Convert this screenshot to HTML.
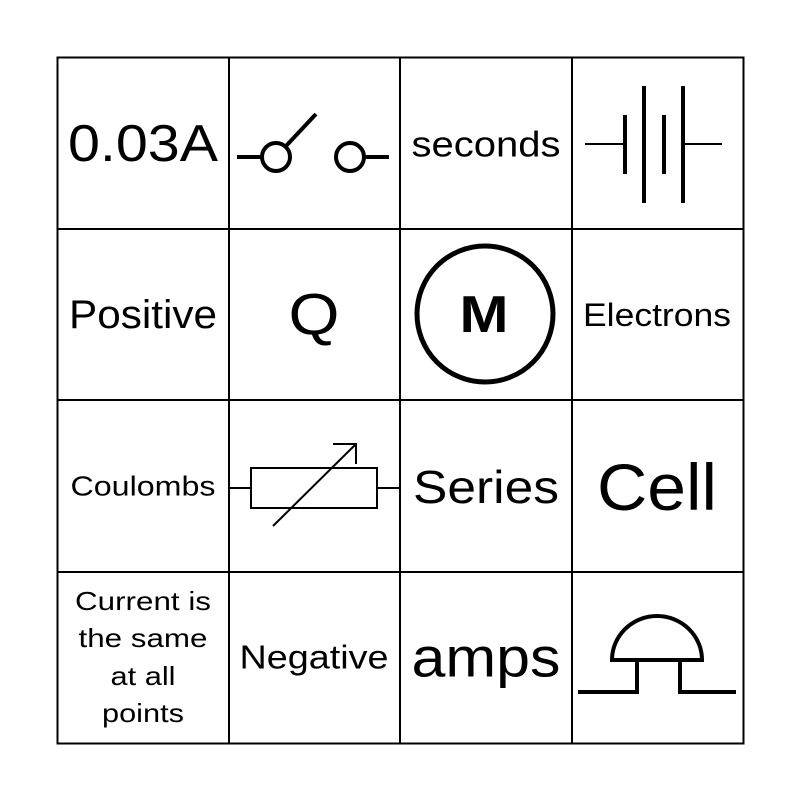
<!DOCTYPE html>
<html><head><style>
body{margin:0;background:#fff;width:800px;height:800px;overflow:hidden}
svg text{font-family:"Liberation Sans",Arial,Helvetica,sans-serif;fill:#000;text-anchor:middle;dominant-baseline:central}
</style></head><body>
<svg width="800" height="800" viewBox="0 0 800 800" font-family="Liberation Sans, Arial, sans-serif">
<g stroke="#000" stroke-width="2" fill="none">
<rect x="57.5" y="57.5" width="686" height="686"/>
<line x1="229" y1="57" x2="229" y2="743"/>
<line x1="400" y1="57" x2="400" y2="743"/>
<line x1="572" y1="57" x2="572" y2="743"/>
<line x1="57" y1="229" x2="743" y2="229"/>
<line x1="57" y1="400" x2="743" y2="400"/>
<line x1="57" y1="572" x2="743" y2="572"/>
</g>
<text x="143" y="144" font-size="52" textLength="150" lengthAdjust="spacingAndGlyphs">0.03A</text>
<text x="486" y="144" font-size="36" textLength="149" lengthAdjust="spacingAndGlyphs">seconds</text>
<text x="143" y="315" font-size="40" textLength="148" lengthAdjust="spacingAndGlyphs">Positive</text>
<text x="314" y="315" font-size="58" textLength="51" lengthAdjust="spacingAndGlyphs">Q</text>
<text x="657" y="315" font-size="32" textLength="148" lengthAdjust="spacingAndGlyphs">Electrons</text>
<text x="143" y="486" font-size="28" textLength="145" lengthAdjust="spacingAndGlyphs">Coulombs</text>
<text x="486" y="487" font-size="46" textLength="146" lengthAdjust="spacingAndGlyphs">Series</text>
<text x="657" y="487" font-size="66" textLength="120" lengthAdjust="spacingAndGlyphs">Cell</text>
<text x="143" y="601" font-size="26" textLength="136" lengthAdjust="spacingAndGlyphs">Current is</text>
<text x="143" y="638" font-size="26" textLength="129" lengthAdjust="spacingAndGlyphs">the same</text>
<text x="143" y="676" font-size="26" textLength="65" lengthAdjust="spacingAndGlyphs">at all</text>
<text x="143" y="713" font-size="26" textLength="82" lengthAdjust="spacingAndGlyphs">points</text>
<text x="314" y="657" font-size="33" textLength="149" lengthAdjust="spacingAndGlyphs">Negative</text>
<text x="486" y="657" font-size="56" textLength="149" lengthAdjust="spacingAndGlyphs">amps</text>
<g stroke="#000" stroke-width="4" fill="none">
<line x1="237" y1="157" x2="261" y2="157"/>
<circle cx="276" cy="157" r="14"/>
<line x1="286" y1="146" x2="316" y2="114"/>
<circle cx="350" cy="157" r="14"/>
<line x1="364" y1="157" x2="389" y2="157"/>
</g>
<g stroke="#000" stroke-width="2">
<line x1="585" y1="144" x2="624" y2="144"/>
<line x1="683" y1="144" x2="722" y2="144"/>
</g>
<g stroke="#000" stroke-width="4">
<line x1="625" y1="115" x2="625" y2="174"/>
<line x1="644" y1="86" x2="644" y2="203"/>
<line x1="664" y1="115" x2="664" y2="174"/>
<line x1="683" y1="86" x2="683" y2="203"/>
</g>
<circle cx="485" cy="314" r="68" stroke="#000" stroke-width="5" fill="none"/>
<text x="484" y="315" font-size="52" font-weight="bold" textLength="49" lengthAdjust="spacingAndGlyphs">M</text>
<g stroke="#000" stroke-width="2" fill="none">
<line x1="229" y1="488" x2="251" y2="488"/>
<rect x="251" y="468" width="126" height="40"/>
<line x1="377" y1="488" x2="400" y2="488"/>
<line x1="273" y1="526" x2="356" y2="444"/>
<polyline points="333,444 356,444 356,464"/>
</g>
<g stroke="#000" stroke-width="4" fill="none">
<path d="M612,660 A45,44 0 0 1 702,660 Z"/>
<polyline points="578,692 637,692 637,660"/>
<polyline points="736,692 680,692 680,660"/>
</g>
</svg>
</body></html>
